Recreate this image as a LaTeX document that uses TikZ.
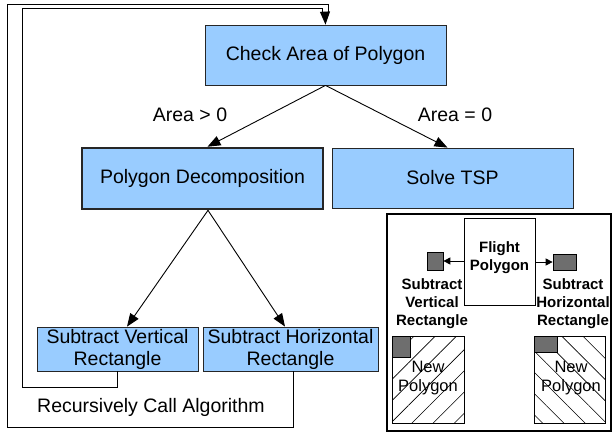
\documentclass[tikz,border=0pt]{standalone}
\usepackage{fontspec}
\setmainfont{Liberation Sans}
\usetikzlibrary{arrows.meta,patterns.meta}
\definecolor{boxblue}{RGB}{153,204,255}
\definecolor{smallgray}{RGB}{110,110,110}
\begin{document}
\begin{tikzpicture}[x=1pt,y=-1pt,
  bluebox/.style={draw=black!85,line width=0.8pt,fill=boxblue,inner sep=0pt,align=center,
     font=\fontsize{19.5}{22}\selectfont},
  lbl/.style={font=\fontsize{19.5}{22}\selectfont,inner sep=0pt},
  insettext/.style={font=\fontsize{15}{18}\selectfont\bfseries,align=center,inner sep=0pt},
  newtext/.style={font=\fontsize{16.5}{19.5}\selectfont,align=center,inner sep=0pt},
  graybox/.style={draw=black,line width=0.7pt,fill=smallgray,inner sep=0pt},
  conn/.style={line width=0.9pt,-{Triangle[length=13pt,width=10pt]}},
  smallconn/.style={line width=0.8pt,-{Triangle[length=7pt,width=7pt]}},
  loopline/.style={line width=0.9pt}]
\useasboundingbox (0,0) rectangle (613,432);

% main flowchart boxes
\node[bluebox,minimum width=241pt,minimum height=60pt] (check) at (325.5,55) {Check Area of Polygon};
\node[bluebox,line width=2.6pt,minimum width=241pt,minimum height=61pt] (dec) at (202.5,178.5) {Polygon Decomposition};
\node[bluebox,minimum width=241pt,minimum height=60pt] (tsp) at (452.5,178) {Solve TSP};
\node[bluebox,minimum width=161pt,minimum height=44pt] (sv) at (117.5,349) {Subtract Vertical\\Rectangle};
\node[bluebox,minimum width=175pt,minimum height=44pt] (sh) at (290.5,349) {Subtract Horizontal\\Rectangle};

% labels
\node[lbl] (lgt) at (190,115) {Area > 0};
\node[lbl] (leq) at (455,115) {Area = 0};
\node[lbl] (lrec) at (151,407) {Recursively Call Algorithm};

% connectors
\draw[conn] (check.south) -- ([xshift=5pt]dec.north);
\draw[conn] (check.south) -- ([xshift=-5pt]tsp.north);
\draw[conn] ([xshift=5.5pt]dec.south) -- ([xshift=9.5pt]sv.north);
\draw[conn] ([xshift=5.5pt]dec.south) -- ([xshift=-5.5pt]sh.north);

% feedback loops
\coordinate (join) at (325,12);
\draw[loopline] (sv.south) |- (22,387) -- (22,8) -- (322,8) -- (322,12.5);
\draw[loopline] ([xshift=2.5pt]sh.south) |- (7,427) -- (7,4) -- (328,4) -- (328,12.5);
\draw[loopline] (322,12.5) -- (328,12.5);
\draw[conn] (join) -- (check.north);

% inset
\node[draw=black,line width=2.6pt,minimum width=224pt,minimum height=217pt,inner sep=0pt] (inset) at (499,322.5) {};
\node[draw=black,line width=0.8pt,fill=white,minimum width=71pt,minimum height=87pt,inner sep=0pt] (flight) at (499.5,261.5) {};
\node[insettext] (flighttext) at (499.5,257.5) {Flight\\Polygon};
\node[graybox,minimum width=16pt,minimum height=18pt] (gl) at (435,261) {};
\node[graybox,minimum width=23pt,minimum height=16pt] (gr) at (564.5,262) {};
\draw[smallconn] (flight.west |- gl) -- (gl.east);
\draw[smallconn] (flight.east |- gr) -- (gr.west);
\node[insettext] (svtext) at (432,304) {Subtract\\Vertical\\Rectangle};
\node[insettext] (shtext) at (573,304) {Subtract\\Horizontal\\Rectangle};

\node[draw=black,line width=0.8pt,minimum width=72pt,minimum height=87pt,inner sep=0pt,
  pattern={Lines[angle=45,distance=15pt,line width=0.6pt]}] (np1) at (428,379.5) {};
\node[draw=black,line width=0.8pt,minimum width=71pt,minimum height=87pt,inner sep=0pt,
  pattern={Lines[angle=-45,distance=15pt,line width=0.6pt]}] (np2) at (569.5,379.5) {};
\node[graybox,minimum width=18pt,minimum height=21pt,anchor=north west] (g1) at (np1.north west) {};
\node[graybox,minimum width=23pt,minimum height=16pt,anchor=north west] (g2) at (np2.north west) {};
\node[newtext] (np1t) at (428,378) {New\\Polygon};
\node[newtext] (np2t) at (571,378) {New\\Polygon};
\end{tikzpicture}
\end{document}
